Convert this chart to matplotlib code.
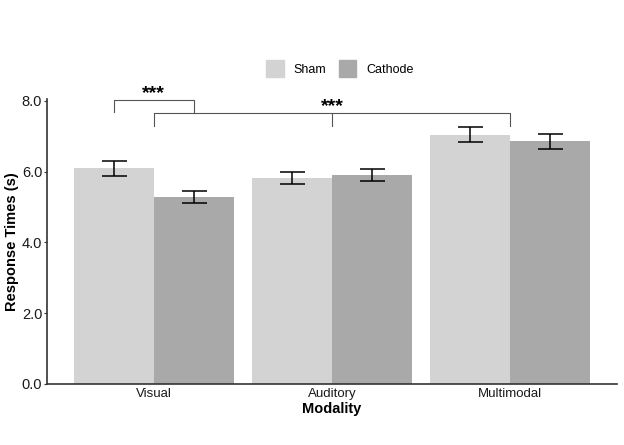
import numpy as np
import matplotlib
matplotlib.use("Agg")
import matplotlib.pyplot as plt
from matplotlib.patches import Patch

plt.rcParams['font.family'] = ['Liberation Sans', 'DejaVu Sans']

modalities = ['Visual', 'Auditory', 'Multimodal']
sham = [6.09, 5.82, 7.04]
sham_err = [0.22, 0.18, 0.21]
cathode = [5.28, 5.90, 6.85]
cathode_err = [0.17, 0.17, 0.20]

fig = plt.figure(figsize=(6.24, 4.45), dpi=100)
ax = fig.add_axes([0.0753, 0.1371, 0.9135, 0.6404])

x = np.arange(1, 4)
w = 0.45
ax.bar(x - w / 2, sham, width=w, color='#d3d3d3', zorder=2)
ax.bar(x + w / 2, cathode, width=w, color='#a9a9a9', zorder=2)
ax.errorbar(x - w / 2, sham, yerr=sham_err, fmt='none', ecolor='black',
            elinewidth=1.1, capsize=9, capthick=1.1, zorder=3)
ax.errorbar(x + w / 2, cathode, yerr=cathode_err, fmt='none', ecolor='black',
            elinewidth=1.1, capsize=9, capthick=1.1, zorder=3)

# significance brackets
bc = '#555555'
ax.plot([x[0] - w / 2, x[0] - w / 2, x[0] + w / 2, x[0] + w / 2],
        [7.67, 8.02, 8.02, 7.65], color=bc, lw=0.8, clip_on=False)
ax.text(x[0], 7.96, '***', ha='center', va='bottom', fontsize=14,
        fontweight='bold')
ax.plot([x[0], x[0], x[2], x[2]], [7.30, 7.65, 7.65, 7.30], color=bc,
        lw=0.8, clip_on=False)
ax.plot([x[1], x[1]], [7.65, 7.30], color=bc, lw=0.8, clip_on=False)
ax.text(x[1], 7.59, '***', ha='center', va='bottom', fontsize=14,
        fontweight='bold')

ax.set_xlim(0.4, 3.6)
ax.set_ylim(0, 8.05)
ax.set_yticks([0, 2, 4, 6, 8])
ax.set_yticklabels(['0.0', '2.0', '4.0', '6.0', '8.0'])
ax.set_xticks(x)
ax.set_xticklabels(modalities)
ax.tick_params(axis='x', length=0, labelsize=9.5, pad=3, labelcolor='#1a1a1a')
ax.tick_params(axis='y', length=2.5, width=0.8, labelsize=10.5, pad=1,
               color='#333333', labelcolor='#1a1a1a')
for s in ['top', 'right']:
    ax.spines[s].set_visible(False)
for s in ['left', 'bottom']:
    ax.spines[s].set_color('#333333')
    ax.spines[s].set_linewidth(1.2)

ax.set_xlabel('Modality', fontsize=10.5, fontweight='bold', labelpad=1)
ax.set_ylabel('Response Times (s)', fontsize=10.5, fontweight='bold',
              labelpad=2)

handles = [Patch(color='#d3d3d3', label='Sham'),
           Patch(color='#a9a9a9', label='Cathode')]
fig.legend(handles=handles, loc='center', bbox_to_anchor=(0.545, 0.846),
           ncol=2, frameon=False, fontsize=9, handlelength=1.4,
           handleheight=1.6, columnspacing=1.0, handletextpad=0.8)

fig.savefig('out.png', dpi=100)
